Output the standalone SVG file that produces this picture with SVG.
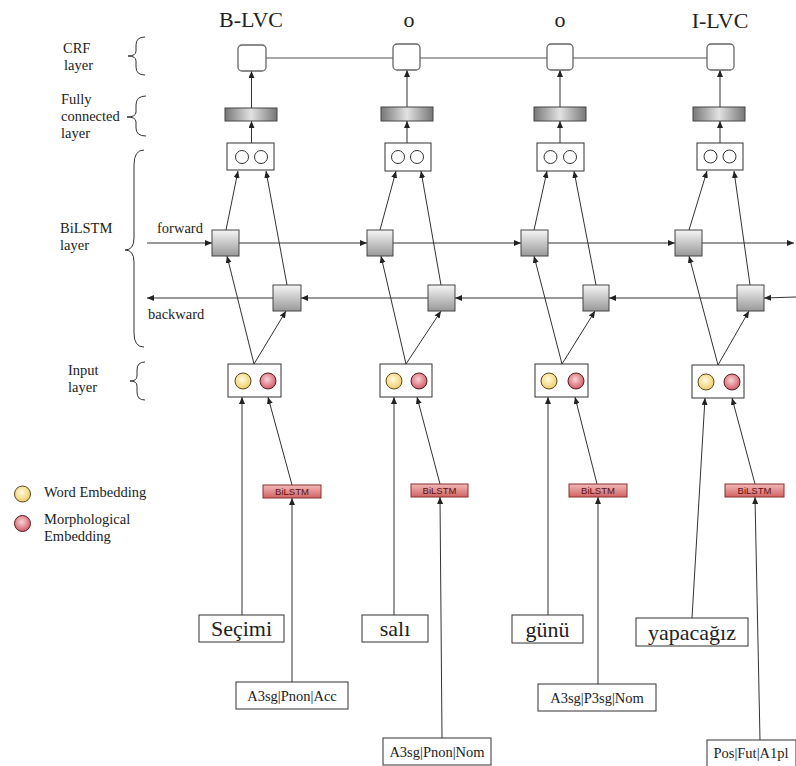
<svg xmlns="http://www.w3.org/2000/svg" width="796" height="766" viewBox="0 0 796 766">
<style>
.t{font-family:"Liberation Serif","Times New Roman",serif;fill:#222}
.lab{font-size:14.5px}
.tag{font-size:22px;text-anchor:middle}
.word{font-size:22px;text-anchor:middle}
.morph{font-size:14.5px;text-anchor:middle}
.bil{font-family:"Liberation Sans",Arial,sans-serif;font-size:9.5px;fill:#5a1010;text-anchor:middle}
.box{fill:#fff;stroke:#333;stroke-width:1}
.crf{fill:#fff;stroke:#666;stroke-width:1.3}
.fc{fill:url(#fcG);stroke:#444;stroke-width:1}
.lstm{fill:url(#lsG);stroke:#444;stroke-width:1}
.oc{fill:#fff;stroke:#333;stroke-width:1}
.yc{fill:url(#yG);stroke:#5a4a20;stroke-width:1}
.rc{fill:url(#rG);stroke:#5a2020;stroke-width:1}
.bl{fill:url(#bG);stroke:#8a3030;stroke-width:1}
.brace{fill:none;stroke:#333;stroke-width:1}
.c{fill:none;stroke:#333;stroke-width:1;marker-end:url(#ah)}
.cg{fill:none;stroke:#555;stroke-width:1.2}
</style>
<defs>
<linearGradient id="fcG" x1="0" y1="0" x2="1" y2="0">
<stop offset="0" stop-color="#777"/><stop offset="0.5" stop-color="#e2e2e2"/><stop offset="1" stop-color="#777"/>
</linearGradient>
<linearGradient id="lsG" x1="0" y1="0" x2="0" y2="1">
<stop offset="0" stop-color="#f6f6f6"/><stop offset="1" stop-color="#989898"/>
</linearGradient>
<radialGradient id="yG" cx="0.45" cy="0.4" r="0.6">
<stop offset="0" stop-color="#fffbe0"/><stop offset="1" stop-color="#f0cc66"/>
</radialGradient>
<radialGradient id="rG" cx="0.45" cy="0.4" r="0.6">
<stop offset="0" stop-color="#fad4d4"/><stop offset="1" stop-color="#d05a68"/>
</radialGradient>
<linearGradient id="bG" x1="0" y1="0" x2="0" y2="1">
<stop offset="0" stop-color="#f4b8b8"/><stop offset="1" stop-color="#d06464"/>
</linearGradient>
<marker id="ah" markerWidth="7" markerHeight="6" refX="7" refY="3" orient="auto" markerUnits="userSpaceOnUse">
<path d="M0,0 L7,3 L0,6 z" fill="#222"/>
</marker>
</defs>

<g id="connectors">
<!-- CRF chain -->
<line class="cg" x1="266" y1="58" x2="707" y2="58"/>
<!-- FC to CRF, outputs to FC -->
<line class="c" x1="251.5" y1="108" x2="251.5" y2="71"/>
<line class="c" x1="407" y1="107" x2="407" y2="70"/>
<line class="c" x1="560" y1="107" x2="560" y2="70"/>
<line class="c" x1="720" y1="107" x2="720" y2="70"/>
<line class="c" x1="251.5" y1="143" x2="251.5" y2="121"/>
<line class="c" x1="407" y1="143" x2="407" y2="121"/>
<line class="c" x1="560" y1="143" x2="560" y2="121"/>
<line class="c" x1="720" y1="143" x2="720" y2="121"/>
<!-- forward chain -->
<line class="c" x1="147" y1="243" x2="212" y2="243"/>
<line class="c" x1="239" y1="243" x2="367" y2="243"/>
<line class="c" x1="393" y1="243" x2="521" y2="243"/>
<line class="c" x1="548" y1="243" x2="675" y2="243"/>
<line class="c" x1="702" y1="243" x2="794" y2="243"/>
<!-- backward chain -->
<line class="c" x1="796" y1="297" x2="764" y2="298"/>
<line class="c" x1="737" y1="298" x2="609" y2="298"/>
<line class="c" x1="583" y1="298" x2="455" y2="298"/>
<line class="c" x1="428" y1="298" x2="301" y2="298"/>
<line class="c" x1="273" y1="298" x2="147" y2="298"/>
<!-- input to LSTM -->
<line class="c" x1="254" y1="364" x2="227" y2="256"/>
<line class="c" x1="254" y1="364" x2="286" y2="311"/>
<line class="c" x1="406" y1="364" x2="381" y2="256"/>
<line class="c" x1="406" y1="364" x2="441" y2="311"/>
<line class="c" x1="562" y1="364" x2="534" y2="256"/>
<line class="c" x1="562" y1="364" x2="595" y2="311"/>
<line class="c" x1="718" y1="365" x2="689" y2="256"/>
<line class="c" x1="718" y1="365" x2="749" y2="311"/>
<!-- LSTM to outputs -->
<line class="c" x1="226" y1="230" x2="238" y2="171"/>
<line class="c" x1="287" y1="285" x2="266" y2="171"/>
<line class="c" x1="380" y1="230" x2="396" y2="171"/>
<line class="c" x1="441" y1="285" x2="421" y2="171"/>
<line class="c" x1="534" y1="230" x2="547" y2="171"/>
<line class="c" x1="596" y1="285" x2="574" y2="171"/>
<line class="c" x1="689" y1="230" x2="707" y2="171"/>
<line class="c" x1="750" y1="285" x2="734" y2="171"/>
<!-- bottom -->
<line class="c" x1="242" y1="615" x2="242" y2="397"/>
<line class="c" x1="292" y1="485" x2="268" y2="397"/>
<line class="c" x1="292" y1="682" x2="292" y2="498"/>
<line class="c" x1="394" y1="615" x2="394" y2="397"/>
<line class="c" x1="440" y1="484" x2="417" y2="397"/>
<line class="c" x1="442" y1="738" x2="440" y2="497"/>
<line class="c" x1="548" y1="615" x2="548" y2="397"/>
<line class="c" x1="597" y1="484" x2="575" y2="397"/>
<line class="c" x1="598" y1="684" x2="598" y2="497"/>
<line class="c" x1="692" y1="618" x2="705" y2="398"/>
<line class="c" x1="755" y1="484" x2="732" y2="398"/>
<line class="c" x1="760" y1="740" x2="755" y2="497"/>
</g>

<g id="tags">
<text class="t tag" x="251" y="27">B-LVC</text>
<text class="t tag" x="409" y="27">o</text>
<text class="t tag" x="560" y="27">o</text>
<text class="t tag" x="720" y="28">I-LVC</text>
</g>

<g id="layer-labels">
<text class="t lab" x="63" y="53">CRF</text>
<text class="t lab" x="64" y="70">layer</text>
<path class="brace" d="M145,37 Q136,37 136,45 L136,51 Q136,56 128,56 Q136,56 136,61 L136,67 Q136,75 145,75"/>
<text class="t lab" x="61" y="104">Fully</text>
<text class="t lab" x="61" y="121">connected</text>
<text class="t lab" x="61" y="138">layer</text>
<path class="brace" d="M146,96 Q136,96 136,105 L136,112 Q136,117 127,117 Q136,117 136,122 L136,128 Q136,136 146,136"/>
<text class="t lab" x="60" y="233">BiLSTM</text>
<text class="t lab" x="60" y="250">layer</text>
<path class="brace" d="M144,150 Q134,150 134,165 L134,238 Q134,250 125,250 Q134,250 134,262 L134,333 Q134,347 144,347"/>
<text class="t lab" x="157" y="233">forward</text>
<text class="t lab" x="148" y="319">backward</text>
<text class="t lab" x="68" y="375">Input</text>
<text class="t lab" x="68" y="392">layer</text>
<path class="brace" d="M145,362 Q137,362 137,370 L137,376 Q137,381 130,381 Q137,381 137,386 L137,392 Q137,400 145,400"/>
</g>

<g id="legend">
<circle class="yc" cx="22.5" cy="494" r="8"/>
<text class="t lab" x="44" y="497">Word Embedding</text>
<circle class="rc" cx="22.5" cy="523.5" r="8"/>
<text class="t lab" x="44" y="524">Morphological</text>
<text class="t lab" x="44" y="541">Embedding</text>
</g>

<g id="crf1"><rect class="crf" x="238" y="45" width="28" height="26" rx="4"/></g>
<g id="crf2"><rect class="crf" x="393" y="44" width="27" height="26" rx="4"/></g>
<g id="crf3"><rect class="crf" x="547" y="44" width="26" height="26" rx="4"/></g>
<g id="crf4"><rect class="crf" x="707" y="44" width="27" height="26" rx="4"/></g>

<g id="fc1"><rect class="fc" x="225" y="108" width="52" height="13"/></g>
<g id="fc2"><rect class="fc" x="381" y="107" width="52" height="14"/></g>
<g id="fc3"><rect class="fc" x="534" y="107" width="52" height="14"/></g>
<g id="fc4"><rect class="fc" x="693" y="107" width="52" height="14"/></g>

<g id="out1"><rect class="box" x="227" y="143" width="47" height="27"/><circle class="oc" cx="242" cy="157" r="6.5"/><circle class="oc" cx="261" cy="157" r="6.5"/></g>
<g id="out2"><rect class="box" x="385" y="143" width="46" height="28"/><circle class="oc" cx="398" cy="157" r="6.5"/><circle class="oc" cx="417" cy="157" r="6.5"/></g>
<g id="out3"><rect class="box" x="537" y="143" width="47" height="28"/><circle class="oc" cx="550.5" cy="157" r="6.5"/><circle class="oc" cx="570" cy="157" r="6.5"/></g>
<g id="out4"><rect class="box" x="697" y="143" width="46" height="27"/><circle class="oc" cx="710.5" cy="156.5" r="6.5"/><circle class="oc" cx="729.5" cy="156.5" r="6.5"/></g>

<g id="fwd1"><rect class="lstm" x="212" y="230" width="27" height="26"/></g>
<g id="fwd2"><rect class="lstm" x="367" y="230" width="26" height="26"/></g>
<g id="fwd3"><rect class="lstm" x="521" y="230" width="27" height="26"/></g>
<g id="fwd4"><rect class="lstm" x="675" y="230" width="27" height="26"/></g>

<g id="bwd1"><rect class="lstm" x="273" y="285" width="28" height="26"/></g>
<g id="bwd2"><rect class="lstm" x="428" y="285" width="27" height="26"/></g>
<g id="bwd3"><rect class="lstm" x="583" y="285" width="26" height="26"/></g>
<g id="bwd4"><rect class="lstm" x="737" y="285" width="27" height="26"/></g>

<g id="in1"><rect class="box" x="228" y="364" width="53" height="33"/><circle class="yc" cx="243" cy="381" r="8"/><circle class="rc" cx="268" cy="381" r="8"/></g>
<g id="in2"><rect class="box" x="380" y="364" width="52" height="33"/><circle class="yc" cx="394" cy="381" r="8"/><circle class="rc" cx="419" cy="381" r="8"/></g>
<g id="in3"><rect class="box" x="535" y="364" width="53" height="33"/><circle class="yc" cx="549" cy="381" r="8"/><circle class="rc" cx="576" cy="381" r="8"/></g>
<g id="in4"><rect class="box" x="692" y="365" width="52" height="33"/><circle class="yc" cx="706" cy="382" r="8"/><circle class="rc" cx="732" cy="382" r="8"/></g>

<g id="bil1"><rect class="bl" x="263" y="485" width="58" height="13"/><text class="bil" x="292" y="495">BiLSTM</text></g>
<g id="bil2"><rect class="bl" x="411" y="484" width="57" height="13"/><text class="bil" x="439.5" y="494">BiLSTM</text></g>
<g id="bil3"><rect class="bl" x="569" y="484" width="58" height="13"/><text class="bil" x="598" y="494">BiLSTM</text></g>
<g id="bil4"><rect class="bl" x="725" y="484" width="59" height="13"/><text class="bil" x="754.5" y="494">BiLSTM</text></g>

<g id="word1"><rect class="box" x="199" y="615" width="85" height="27"/><text class="t word" x="241.5" y="636">Seçimi</text></g>
<g id="word2"><rect class="box" x="362" y="615" width="66" height="27"/><text class="t word" x="395" y="636">salı</text></g>
<g id="word3"><rect class="box" x="512" y="615" width="71" height="28"/><text class="t word" x="547.5" y="637">günü</text></g>
<g id="word4"><rect class="box" x="636" y="618" width="112" height="28"/><text class="t word" x="692" y="640">yapacağız</text></g>

<g id="morph1"><rect class="box" x="236" y="682" width="112" height="27"/><text class="t morph" x="292" y="701">A3sg|Pnon|Acc</text></g>
<g id="morph2"><rect class="box" x="383" y="738" width="108" height="27"/><text class="t morph" x="437" y="757">A3sg|Pnon|Nom</text></g>
<g id="morph3"><rect class="box" x="538" y="684" width="118" height="27"/><text class="t morph" x="597" y="703">A3sg|P3sg|Nom</text></g>
<g id="morph4"><rect class="box" x="707" y="740" width="89" height="27"/><text class="t morph" x="751" y="758">Pos|Fut|A1pl</text></g>
</svg>
